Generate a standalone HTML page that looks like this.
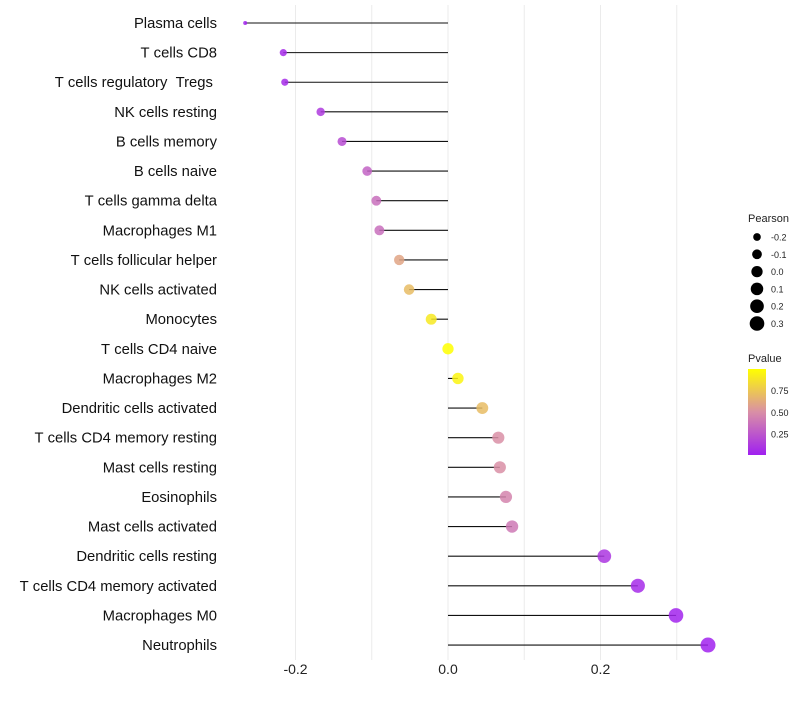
<!DOCTYPE html>
<html><head><meta charset="utf-8"><style>
body{margin:0;background:#fff;font-family:"Liberation Sans",sans-serif}
</style></head><body>
<svg id="c" width="800" height="700" xmlns="http://www.w3.org/2000/svg"></svg>
<script>
const cells=["Plasma cells","T cells CD8","T cells regulatory  Tregs ","NK cells resting","B cells memory","B cells naive","T cells gamma delta","Macrophages M1","T cells follicular helper","NK cells activated","Monocytes","T cells CD4 naive","Macrophages M2","Dendritic cells activated","T cells CD4 memory resting","Mast cells resting","Eosinophils","Mast cells activated","Dendritic cells resting","T cells CD4 memory activated","Macrophages M0","Neutrophils"];
const pearson=[-0.266,-0.216,-0.214,-0.167,-0.139,-0.106,-0.094,-0.090,-0.064,-0.051,-0.022,0.0,0.013,0.045,0.066,0.068,0.076,0.084,0.205,0.249,0.299,0.341];
const pvalue=[0.02,0.05,0.05,0.12,0.2,0.3,0.35,0.35,0.6,0.7,0.9,1.0,0.95,0.7,0.5,0.5,0.45,0.4,0.1,0.05,0.02,0.01];
const xTicks=[-0.2,0.0,0.2];
const xGrid=[-0.2,-0.1,0,0.1,0.2,0.3];
const sizeLegend=[-0.2,-0.1,0.0,0.1,0.2,0.3];
const pLegend=[0.25,0.50,0.75];

const NS="http://www.w3.org/2000/svg";
const svg=document.getElementById('c');
const x=v=>448+v*762.5;
const y=i=>23+i*29.62;
const vmin=Math.min(...pearson),vmax=Math.max(...pearson);
const r=v=>2+5.5*Math.sqrt(Math.max(0,(v-vmin)/(vmax-vmin)));
function col(p){
  const a=[160,32,240],m=[217,143,166],b=[255,255,0];
  let c;
  if(p<0.5){const t=p/0.5;c=a.map((v,k)=>v+(m[k]-v)*t);}else{const t=(p-0.5)/0.5;c=m.map((v,k)=>v+(b[k]-v)*t);}
  return `rgb(${c.map(Math.round).join(',')})`;
}
function el(t,at,txt){const e=document.createElementNS(NS,t);for(const k in at)e.setAttribute(k,at[k]);if(txt!==undefined)e.textContent=txt;svg.appendChild(e);return e;}

xGrid.forEach(v=>{
  const g=el('line',{x1:x(v),x2:x(v),y1:5,y2:660,stroke:'#ebebeb','stroke-width':1});
  
  
});
xTicks.forEach(v=>{
  const t=el('text',{x:x(v),y:674,'font-size':14,'text-anchor':'middle',fill:'#222'},v.toFixed(1));
  
  
});
cells.forEach((c,i)=>{
  const t=el('text',{x:217,y:y(i)+5,'font-size':14.8,'text-anchor':'end',fill:'#111'},c.replace(/ /g,'\u00a0'));
  
  
  const l=el('line',{x1:x(0),x2:x(pearson[i]),y1:y(i),y2:y(i),stroke:'#111','stroke-width':1.1});
  
  
  const d=el('circle',{cx:x(pearson[i]),cy:y(i),r:r(pearson[i]),fill:col(pvalue[i]),'fill-opacity':0.85});
  
  
});
const lt=el('text',{x:748,y:222,'font-size':11,fill:'#222'},'Pearson');


sizeLegend.forEach((v,i)=>{
  const cy=237+i*17.3;
  const d=el('circle',{cx:757,cy:cy,r:r(v),fill:'#000'});
  
  
  const t=el('text',{x:771,y:cy+3.5,'font-size':9,fill:'#222'},v.toFixed(1));
  
  
});
const pt=el('text',{x:748,y:362,'font-size':11,fill:'#222'},'Pvalue');


const defs=el('defs',{});
const lg=document.createElementNS(NS,'linearGradient');
lg.setAttribute('id','pg');lg.setAttribute('x1','0');lg.setAttribute('y1','1');lg.setAttribute('x2','0');lg.setAttribute('y2','0');
[[0,0],[0.5,0.5],[1,1]].forEach(([o,p])=>{const s=document.createElementNS(NS,'stop');s.setAttribute('offset',o);s.setAttribute('stop-color',col(p));lg.appendChild(s);});
defs.appendChild(lg);
const bar=el('rect',{x:748,y:369,width:18,height:86,fill:'url(#pg)'});


const py=p=>455-(p-0.01)/(1-0.01)*86;
pLegend.forEach(p=>{
  const t=el('text',{x:771,y:py(p)+3.5,'font-size':9,fill:'#222'},p.toFixed(2));
  
  
});
</script>
</body></html>
